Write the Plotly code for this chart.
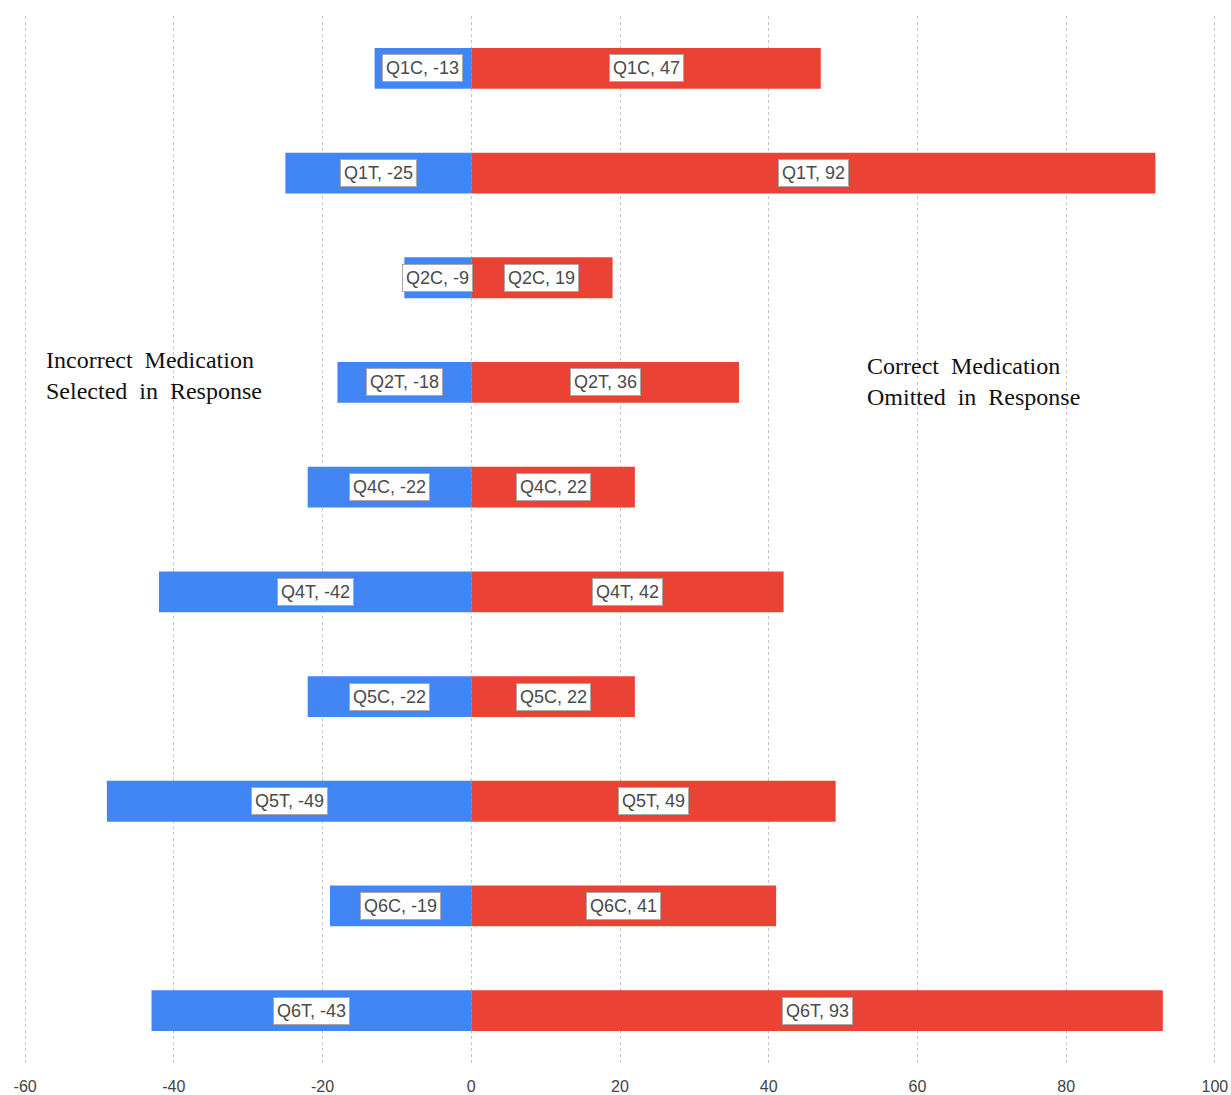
import plotly.graph_objects as go

categories = ["Q1C", "Q1T", "Q2C", "Q2T", "Q4C", "Q4T", "Q5C", "Q5T", "Q6C", "Q6T"]
incorrect_selected = [-13, -25, -9, -18, -22, -42, -22, -49, -19, -43]
correct_omitted = [47, 92, 19, 36, 22, 42, 22, 49, 41, 93]
x_ticks = [-60, -40, -20, 0, 20, 40, 60, 80, 100]
x_tick_labels = ["-60", "-40", "-20", "0", "20", "40", "60", "80", "100"]

BLUE = "#4285F4"
RED = "#EA4335"

fig = go.Figure()
fig.add_trace(go.Bar(y=categories, x=incorrect_selected, orientation="h",
                     marker=dict(color=BLUE, line=dict(width=0)), width=0.39,
                     name="Incorrect", hoverinfo="x+y"))
fig.add_trace(go.Bar(y=categories, x=correct_omitted, orientation="h",
                     marker=dict(color=RED, line=dict(width=0)), width=0.39,
                     name="Correct", hoverinfo="x+y"))

label_font = dict(family="Liberation Sans, Arial, sans-serif", size=18, color="#4a4a4a")
for cat, v in zip(categories, incorrect_selected):
    fig.add_annotation(x=v / 2, y=cat, text=f"{cat}, {v}", showarrow=False,
                       font=label_font, bgcolor="white", bordercolor="#a8a8a8",
                       borderwidth=1, borderpad=3, xanchor="center", yanchor="middle")
for cat, v in zip(categories, correct_omitted):
    fig.add_annotation(x=v / 2, y=cat, text=f"{cat}, {v}", showarrow=False,
                       font=label_font, bgcolor="white", bordercolor="#a8a8a8",
                       borderwidth=1, borderpad=3, xanchor="center", yanchor="middle")

serif = dict(family="Liberation Serif, DejaVu Serif, serif", size=24, color="#111111")
fig.add_annotation(x=-57.4, y=0.657, xref="x", yref="paper",
                   text="Incorrect  Medication<br>Selected  in  Response",
                   showarrow=False, xanchor="left", yanchor="middle", align="left", font=serif)
fig.add_annotation(x=53.0, y=0.651, xref="x", yref="paper",
                   text="Correct  Medication<br>Omitted  in  Response",
                   showarrow=False, xanchor="left", yanchor="middle", align="left", font=serif)

fig.update_layout(
    width=1231, height=1095,
    margin=dict(l=24, r=15, t=16, b=32),
    plot_bgcolor="white", paper_bgcolor="white",
    barmode="relative", showlegend=False,
    xaxis=dict(range=[-60.15, 100.15], tickvals=x_ticks, ticktext=x_tick_labels,
               showgrid=True, gridcolor="#c4c4c4",
               griddash="dot", gridwidth=1, zeroline=False, showline=False, ticks="",
               automargin=False, ticklabelstandoff=12,
               tickfont=dict(family="Liberation Sans, Arial, sans-serif", size=16, color="#444444")),
    yaxis=dict(categoryorder="array", categoryarray=categories, autorange="reversed",
               showticklabels=False, showgrid=False, zeroline=False, showline=False,
               automargin=False),
)

fig.write_html("out.html")
